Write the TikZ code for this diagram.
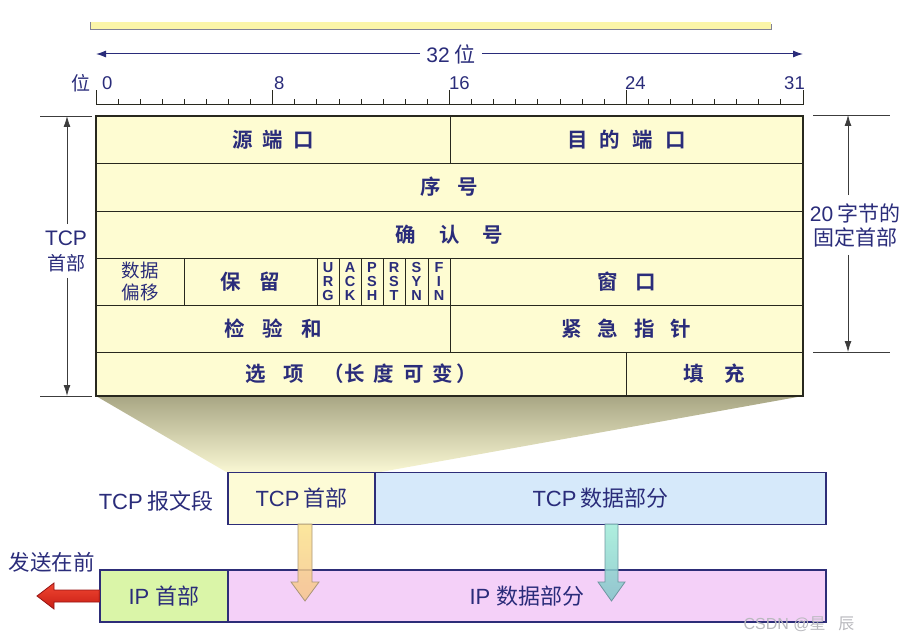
\documentclass[tikz,border=0pt]{standalone}
\usepackage{fontspec}
\setmainfont{Liberation Sans}
\newfontfamily\cjk{Noto Sans CJK SC}[BoldFont={Noto Sans CJK SC Bold}]
\newfontfamily\flagbold{Liberation Sans Bold}
\usetikzlibrary{arrows.meta}
\definecolor{navy}{RGB}{42,44,122}
\definecolor{tabfill}{RGB}{254,252,210}
\definecolor{tabline}{RGB}{40,40,30}
\definecolor{dimgrey}{RGB}{60,60,60}
\definecolor{tcphfill}{RGB}{253,251,214}
\definecolor{tcpdfill}{RGB}{214,233,250}
\definecolor{iphfill}{RGB}{218,245,168}
\definecolor{ipdfill}{RGB}{244,208,248}
\definecolor{boxline}{RGB}{45,45,120}
\newcommand\hg[1]{\hspace{#1pt}}
\newcommand\cellbox[7][]{\node[cell,#1,minimum width={#4-#2},minimum height={#5-#3}] (#6) at ({(#2+#4)/2},{(#3+#5)/2}) {#7};}
\begin{document}
\begin{tikzpicture}[x=1pt,y=-1pt,
  cell/.style={draw=tabline,line width=0.9pt,fill=tabfill,inner sep=0pt,text=navy,font=\cjk\fontsize{20.5}{22}\selectfont\bfseries},
  flag/.style={cell,font=\flagbold\fontsize{14.5}{14.2}\selectfont,align=center},
  lbl/.style={text=navy,inner sep=1pt},
  dimline/.style={draw=dimgrey,line width=0.8pt},
  dimarrow/.style={dimline,-{Latex[length=11pt,width=7pt]}},
  segbox/.style={draw=boxline,line width=1.4pt,inner sep=0pt,text=navy,font=\fontsize{22}{24}\selectfont}]
\useasboundingbox (0,0) rectangle (908,639);
% top bar
\fill[fill={rgb,255:red,251;green,245;blue,168}] (90,22) rectangle (771,29);
\draw[draw={rgb,255:red,130;green,130;blue,150},line width=0.8pt] (90,22) -- (90,29) -- (771,29) -- (771,24);
% 32 bit arrow
\node[lbl,font=\fontsize{21}{23}\selectfont,inner sep=6pt] (bits) at (451,54) {32\hg{5}{\cjk 位}};
\coordinate (bl) at (96,54);
\coordinate (br) at (803,54);
\draw[draw=navy,line width=1pt,-{Latex[length=10pt,width=7pt]}] (bits.west) -- (bl);
\draw[draw=navy,line width=1pt,-{Latex[length=10pt,width=7pt]}] (bits.east) -- (br);
% ruler
\draw[draw=tabline,line width=1pt] (96,105) -- (803,105);
\foreach \k in {0,...,32}{\draw[draw=tabline,line width=0.9pt] ({96+\k*22.09375},105) -- ++(0,-6);}
\foreach \k in {0,8,16,24,32}{\draw[draw=tabline,line width=1pt] ({96+\k*22.09375},105) -- ++(0,-15);}
\node[lbl,font=\cjk\fontsize{19}{21}\selectfont,anchor=east] (wei) at (92,83) {位};
\node[lbl,font=\fontsize{18.5}{20}\selectfont,anchor=west] (n0) at (101,83) {0};
\node[lbl,font=\fontsize{18.5}{20}\selectfont,anchor=west] (n8) at (273,83) {8};
\node[lbl,font=\fontsize{18.5}{20}\selectfont,anchor=west] (n16) at (448,83) {16};
\node[lbl,font=\fontsize{18.5}{20}\selectfont,anchor=west] (n24) at (624,83) {24};
\node[lbl,font=\fontsize{18.5}{20}\selectfont,anchor=east] (n31) at (806,83) {31};
% fan
\shade[top color={rgb,255:red,168;green,166;blue,132},bottom color={rgb,255:red,250;green,248;blue,212}]
  (96,396) -- (803,396) -- (375,473) -- (228,473) -- cycle;
% table
\cellbox{96}{116}{450}{163}{srcp}{源\hg{10}端\hg{10}口}
\cellbox{450}{116}{803}{163}{dstp}{目\hg{12}的\hg{12}端\hg{12}口}
\cellbox{96}{163}{803}{211}{seq}{序\hg{17}号}
\cellbox{96}{211}{803}{258}{ack}{确\hg{23}认\hg{23}号}
\cellbox[font=\cjk\fontsize{18.5}{22}\selectfont,align=center]{96}{258}{184}{305}{doff}{数据\\偏移}
\cellbox{184}{258}{317}{305}{resv}{保\hg{19}留}
\cellbox[flag]{317}{258}{339}{305}{furg}{U\\R\\G}
\cellbox[flag]{339}{258}{361}{305}{fack}{A\\C\\K}
\cellbox[flag]{361}{258}{383}{305}{fpsh}{P\\S\\H}
\cellbox[flag]{383}{258}{405}{305}{frst}{R\\S\\T}
\cellbox[flag]{405}{258}{428}{305}{fsyn}{S\\Y\\N}
\cellbox[flag]{428}{258}{450}{305}{ffin}{F\\I\\N}
\cellbox{450}{258}{803}{305}{win}{窗\hg{17}口}
\cellbox{96}{305}{450}{352}{csum}{检\hg{18}验\hg{18}和}
\cellbox{450}{305}{803}{352}{urgp}{紧\hg{16}急\hg{16}指\hg{16}针}
\cellbox{96}{352}{626}{396}{opt}{选\hg{18}项\hg{20}（长\hg{9}度\hg{9}可\hg{9}变\hg{3}）}
\cellbox{626}{352}{803}{396}{pad}{填\hg{21}充}
\draw[draw=tabline,line width=2pt] (96,116) rectangle (803,396);
% left dimension
\coordinate (lt) at (67,116);
\coordinate (lb) at (67,396);
\draw[dimline] (40,116) -- (92,116);
\draw[dimline] (40,396) -- (92,396);
\node[lbl,font=\fontsize{21}{25}\selectfont,align=center,inner sep=6pt] (tcph) at (66,251) {TCP\\{\cjk\fontsize{19}{21}\selectfont 首部}};
\draw[dimarrow] (tcph.north -| lt) -- (lt);
\draw[dimarrow] (tcph.south -| lb) -- (lb);
% right dimension
\coordinate (rt) at (848,115);
\coordinate (rb) at (848,352);
\draw[dimline] (813,115) -- (890,115);
\draw[dimline] (813,352) -- (890,352);
\node[lbl,font=\fontsize{21}{24}\selectfont,align=center,inner sep=8pt] (fix) at (855,225) {20\hg{4}{\cjk 字节的}\\{\cjk 固定首部}};
\draw[dimarrow] (fix.north -| rt) -- (rt);
\draw[dimarrow] (fix.south -| rb) -- (rb);
% TCP segment
\node[lbl,font=\fontsize{22}{24}\selectfont,anchor=east] (seglbl) at (215,501) {TCP\hg{5}{\cjk 报文段}};
\node[segbox,fill=tcphfill,minimum width=147,minimum height=52] (tcphdr) at (301.5,498.5) {TCP\hg{4}{\cjk 首部}};
\node[segbox,fill=tcpdfill,minimum width=451,minimum height=52] (tcpdata) at (600.5,498.5) {TCP\hg{4}{\cjk 数据部分}};
% IP datagram
\node[lbl,font=\cjk\fontsize{21.5}{23}\selectfont] (send) at (52,562) {发送在前};
\node[segbox,fill=iphfill,minimum width=128,minimum height=52] (iphdr) at (164,596) {IP\hg{6}{\cjk 首部}};
\node[segbox,fill=ipdfill,minimum width=598,minimum height=52] (ipdata) at (527,596) {IP\hg{6}{\cjk 数据部分}};
% down arrows
\path[draw={rgb,255:red,170;green,150;blue,120},line width=0.8pt,top color={rgb,255:red,250;green,226;blue,140},bottom color={rgb,255:red,246;green,196;blue,140},fill opacity=0.85]
  (298,524) -- (312,524) -- (312,582) -- (319,582) -- (305,601) -- (291,582) -- (298,582) -- cycle;
\path[draw={rgb,255:red,110;green,150;blue,160},line width=0.8pt,top color={rgb,255:red,160;green,236;blue,216},bottom color={rgb,255:red,130;green,196;blue,200},fill opacity=0.85]
  (605,524) -- (618,524) -- (618,582) -- (625,582) -- (611.5,601) -- (598,582) -- (605,582) -- cycle;
% red arrow
\path[draw={rgb,255:red,150;green,20;blue,20},line width=0.8pt,top color={rgb,255:red,240;green,70;blue,50},bottom color={rgb,255:red,200;green,30;blue,20}]
  (iphdr.west |- 0,590) -- (54,590) -- (54,583) -- (37,596) -- (54,609) -- (54,602) -- (iphdr.west |- 0,602) -- cycle;
% watermark
\node[text={rgb,255:red,185;green,185;blue,190},font=\fontsize{16}{18}\selectfont,inner sep=0pt] (wm) at (799,624) {CSDN @{\cjk 星\hspace{0.8em}辰}};
\end{tikzpicture}
\end{document}
